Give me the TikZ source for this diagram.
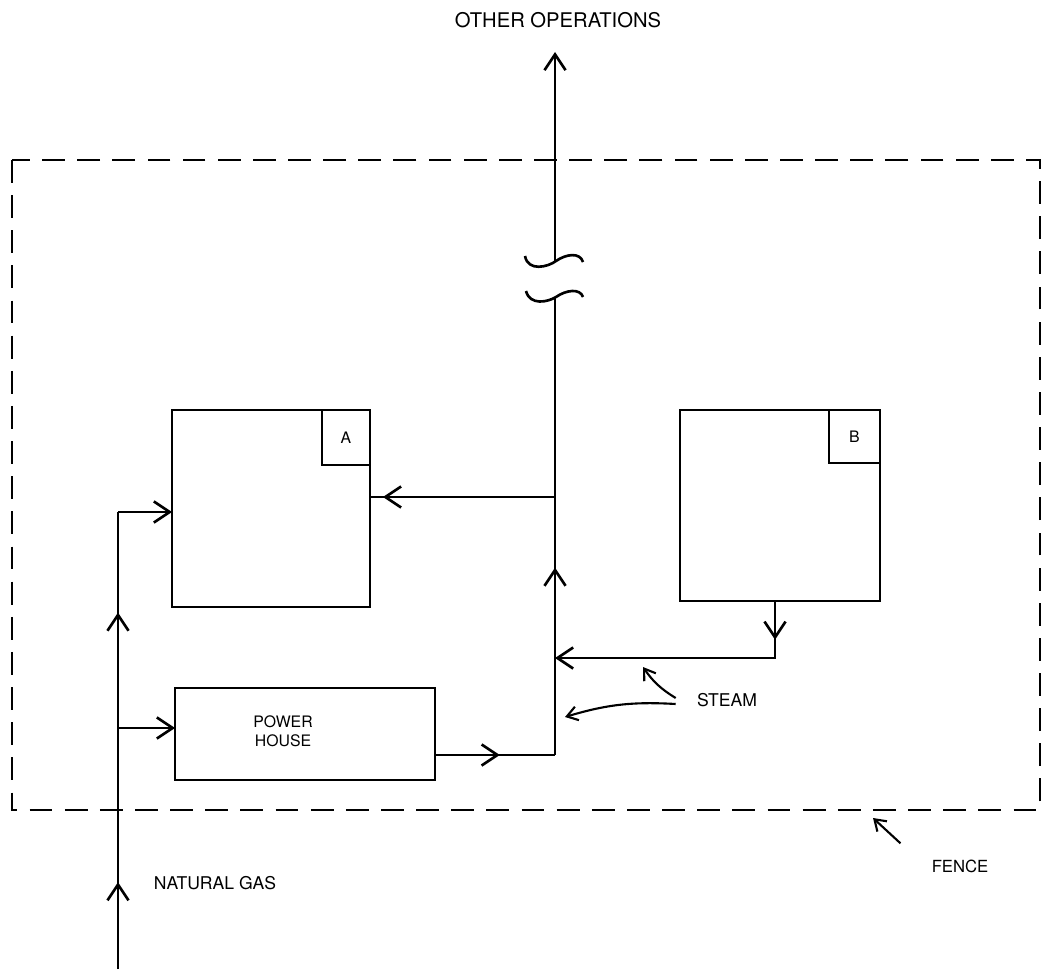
\documentclass[tikz,border=0pt]{standalone}
\usepackage{fontspec}
\setmainfont{TeX Gyre Heros}
\usetikzlibrary{arrows.meta,decorations.markings}
\begin{document}
\begin{tikzpicture}[x=0.02cm, y=-0.02cm, line width=1.5pt, >={Straight Barb[length=9pt,width=12pt]}]
  \tikzset{unit/.style={draw, inner sep=0pt, outer sep=0pt},
    tag/.style={draw, inner sep=0pt, outer sep=0pt, font=\fontsize{9}{10}\selectfont},
    lbl/.style={inner sep=0pt, align=center},
    fence/.style={dash pattern=on 13pt off 7pt},
    flow/.style={postaction={decorate, decoration={markings, mark=at position #1 with {\arrow{>}}}}},
    hint/.style={line width=1.2pt, -{Straight Barb[length=6pt,width=8pt]}}}
  \useasboundingbox (0,0) rectangle (1043,969);
  \draw[fence] (12,160) rectangle (1040,810);
  \node[unit, minimum width=3.96cm, minimum height=3.94cm] (A) at (271,508.5) {};
  \node[tag, minimum width=0.96cm, minimum height=1.1cm, anchor=north east] (tagA) at (A.north east) {A};
  \node[unit, minimum width=4.0cm, minimum height=3.82cm] (B) at (780,505.5) {};
  \node[tag, minimum width=1.02cm, minimum height=1.06cm, anchor=north east] (tagB) at (B.north east) {B};
  \node[unit, minimum width=5.2cm, minimum height=1.84cm] (power) at (305,734) {};
  \node[lbl, font=\fontsize{9}{11}\selectfont] (powertxt) at (283,731) {POWER\\HOUSE};
  \node[lbl, font=\fontsize{11.5}{13}\selectfont] (other) at (558,20) {OTHER OPERATIONS};
  \node[lbl, font=\fontsize{10}{12}\selectfont] (gas) at (215,883) {NATURAL GAS};
  \node[lbl, font=\fontsize{10}{12}\selectfont] (steam) at (727,700) {STEAM};
  \node[lbl, font=\fontsize{9.5}{11}\selectfont] (fencelbl) at (960,866) {FENCE};
  \coordinate (gasin) at (118,969);
  \coordinate (gasA) at (118,512);
  \coordinate (gasP) at (118,728);
  \coordinate (joinP) at (555,755);
  \coordinate (joinB) at (555,658);
  \coordinate (joinA) at (555,497);
  \coordinate (brklo) at (555,298);
  \coordinate (brkhi) at (555,262);
  \coordinate (top) at (555,52);
  \coordinate (bturn) at (775,658);
  \coordinate (s1) at (643,667);
  \coordinate (s2) at (565,717);
  \coordinate (fencept) at (873,818);
  \draw[flow=0.19, flow=0.78] (gasin) -- (gasA);
  \draw[->] (gasA) -- (gasA -| A.west);
  \draw[->] (gasP) -- (gasP -| power.west);
  \draw[flow=0.54] (power.east |- joinP) -- (joinP);
  \draw[flow=0.41] (joinP) -- (brklo);
  \draw[->] (brkhi) -- (top);
  \draw[flow=0.93] (joinA) -- (joinA -| A.east);
  \draw[flow=0.14, ->] (bturn |- B.south) -- (bturn) -- (joinB);
  \draw (525,256) .. controls (528,272) and (548,267) .. (556,261) .. controls (566,254) and (580,252) .. (583,262);
  \draw (526,291) .. controls (530,306) and (548,302) .. (556,297) .. controls (566,290) and (580,288) .. (583,297);
  \draw[hint] (steam.west) ++(-20,-2) to[bend left=12] (s1);
  \draw[hint] (steam.west) ++(-20,4) to[bend right=10] (s2);
  \draw[hint] (fencelbl.north west) ++(-30,-15) -- (fencept);
\end{tikzpicture}
\end{document}
